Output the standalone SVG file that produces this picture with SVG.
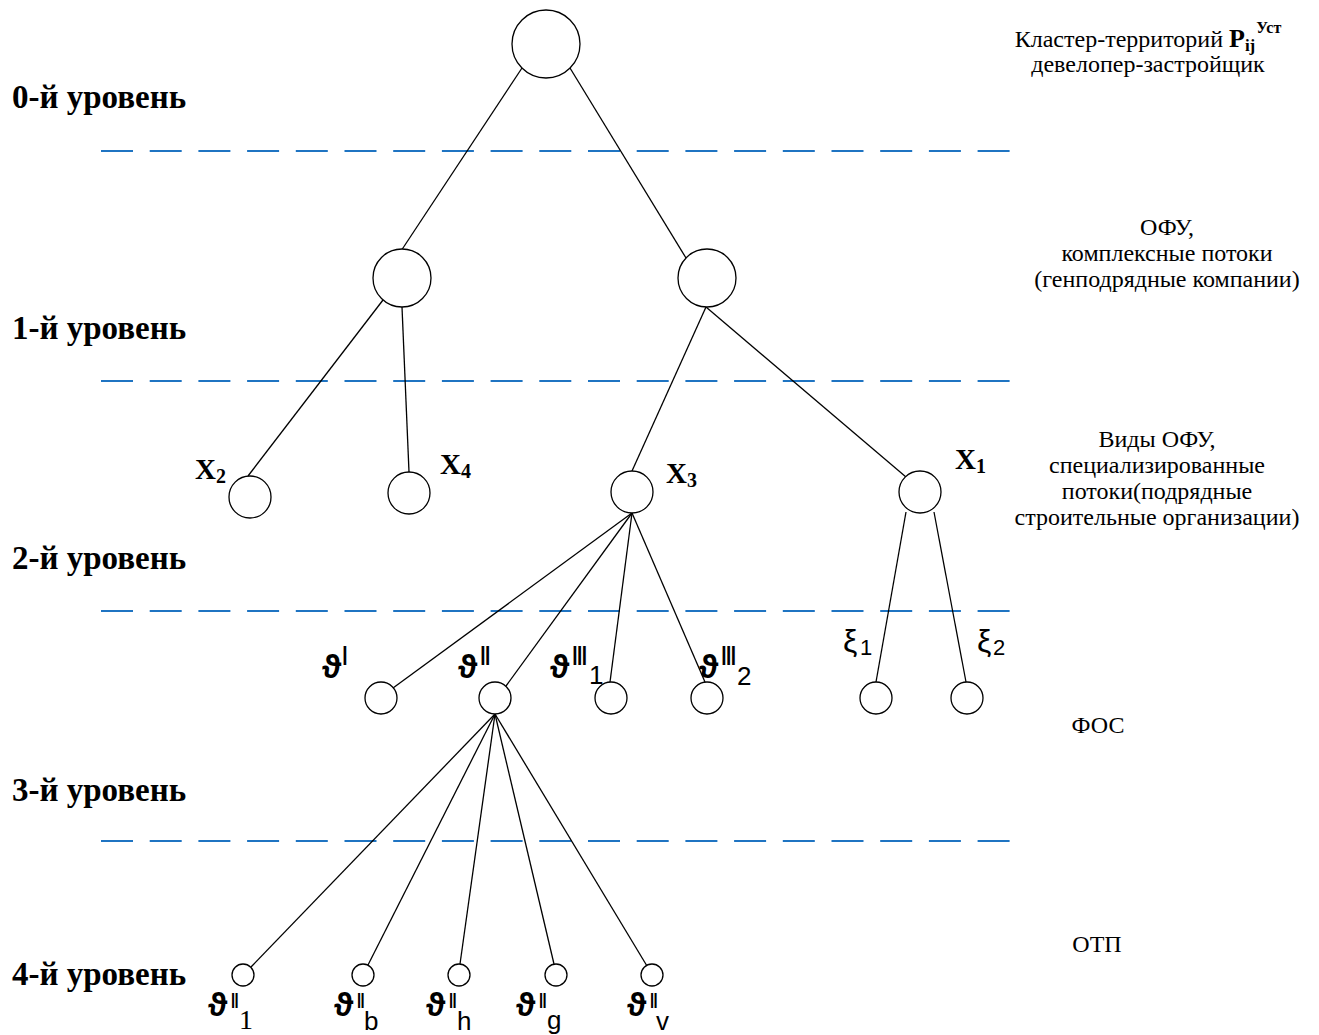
<svg xmlns="http://www.w3.org/2000/svg" width="1319" height="1035" viewBox="0 0 1319 1035">
<style>
.n{fill:#fff;stroke:#000;stroke-width:1.3}
.e{stroke:#000;stroke-width:1.3;fill:none}
.d{stroke:#1F74C2;stroke-width:2;stroke-dasharray:32 16.7;fill:none}
.lv{font-family:"Liberation Serif",serif;font-weight:bold;font-size:33px}
.r{font-family:"Liberation Serif",serif;font-size:24px;text-anchor:middle}
.x{font-family:"Liberation Serif",serif;font-weight:bold;font-size:29px}
.g{font-family:"Liberation Sans","DejaVu Sans",sans-serif;font-size:33px;font-weight:bold}
.sp{font-family:"Liberation Sans","DejaVu Sans",sans-serif;font-size:28px;letter-spacing:-3px}
.sb{font-family:"Liberation Sans","DejaVu Sans",sans-serif;font-size:26px}
.sp2{font-family:"Liberation Sans","DejaVu Sans",sans-serif;font-size:22px}
.sq{font-family:"Liberation Sans","DejaVu Sans",sans-serif;font-size:22px;letter-spacing:-2.5px}
.xi{font-family:"Liberation Sans","DejaVu Sans",sans-serif;font-size:32px}
</style>
<rect width="1319" height="1035" fill="#fff"/>
<g id="levels">
<line class="d" x1="101" y1="151" x2="1011" y2="151"/>
<line class="d" x1="101" y1="381" x2="1011" y2="381"/>
<line class="d" x1="101" y1="611" x2="1011" y2="611"/>
<line class="d" x1="101" y1="841" x2="1011" y2="841"/>
<text class="lv" x="12" y="108">0-й уровень</text>
<text class="lv" x="12" y="339">1-й уровень</text>
<text class="lv" x="12" y="569">2-й уровень</text>
<text class="lv" x="12" y="801">3-й уровень</text>
<text class="lv" x="12" y="985">4-й уровень</text>
</g>
<g id="descriptions">
<text class="r" x="1148" y="47">Кластер-территорий  <tspan font-weight="bold" font-size="26">P</tspan><tspan font-weight="bold" font-size="17" dy="4">ij</tspan><tspan font-weight="bold" font-size="16" dy="-18" dx="1">Уст</tspan></text>
<text class="r" x="1148" y="72">девелопер-застройщик</text>
<text class="r" x="1167" y="235">ОФУ,</text>
<text class="r" x="1167" y="261">комплексные потоки</text>
<text class="r" x="1167" y="287">(генподрядные компании)</text>
<text class="r" x="1157" y="447">Виды ОФУ,</text>
<text class="r" x="1157" y="473">специализированные</text>
<text class="r" x="1157" y="499">потоки(подрядные</text>
<text class="r" x="1157" y="525">строительные организации)</text>
<text class="r" x="1098" y="733">ФОС</text>
<text class="r" x="1097" y="952">ОТП</text>
</g>
<g id="connectors">
<line class="e" x1="522" y1="68" x2="401" y2="251"/>
<line class="e" x1="570" y1="68" x2="686" y2="258"/>
<line class="e" x1="383" y1="300" x2="248" y2="476"/>
<line class="e" x1="402" y1="307" x2="409" y2="472"/>
<line class="e" x1="706" y1="307" x2="632" y2="471"/>
<line class="e" x1="706" y1="307" x2="906" y2="477"/>
<line class="e" x1="632" y1="513" x2="393" y2="688"/>
<line class="e" x1="632" y1="513" x2="506" y2="686"/>
<line class="e" x1="632" y1="513" x2="610" y2="682"/>
<line class="e" x1="632" y1="513" x2="705" y2="682"/>
<line class="e" x1="906" y1="512" x2="876" y2="682"/>
<line class="e" x1="934" y1="512" x2="966" y2="682"/>
<line class="e" x1="495" y1="714" x2="251" y2="967"/>
<line class="e" x1="495" y1="714" x2="368" y2="965"/>
<line class="e" x1="495" y1="714" x2="460" y2="964"/>
<line class="e" x1="495" y1="714" x2="554" y2="964"/>
<line class="e" x1="495" y1="714" x2="647" y2="966"/>
</g>
<g id="root"><circle class="n" cx="546" cy="44" r="34"/></g>
<g id="l1a"><circle class="n" cx="402" cy="278" r="29"/></g>
<g id="l1b"><circle class="n" cx="707" cy="278" r="29"/></g>
<g id="x2"><circle class="n" cx="250" cy="497" r="21"/><text class="x" x="195" y="479">X<tspan font-size="20" dy="4">2</tspan></text></g>
<g id="x4"><circle class="n" cx="409" cy="493" r="21"/><text class="x" x="440" y="474">X<tspan font-size="20" dy="4">4</tspan></text></g>
<g id="x3"><circle class="n" cx="632" cy="492" r="21"/><text class="x" x="666" y="483">X<tspan font-size="20" dy="4">3</tspan></text></g>
<g id="x1"><circle class="n" cx="920" cy="492" r="21"/><text class="x" x="955" y="469">X<tspan font-size="20" dy="4">1</tspan></text></g>
<g id="t1"><circle class="n" cx="381" cy="698" r="16"/><text class="g" x="322" y="678">ϑ</text><text class="sp" x="341" y="665">I</text></g>
<g id="t2"><circle class="n" cx="495" cy="698" r="16"/><text class="g" x="458" y="678">ϑ</text><text class="sp" x="479" y="665">II</text></g>
<g id="t31"><circle class="n" cx="611" cy="698" r="16"/><text class="g" x="550" y="678">ϑ</text><text class="sp" x="571" y="665">III</text><text class="sb" x="589" y="684">1</text></g>
<g id="t32"><circle class="n" cx="707" cy="698" r="16"/><text class="g" x="699" y="678">ϑ</text><text class="sp" x="720" y="665">III</text><text class="sb" x="737" y="685">2</text></g>
<g id="xi1"><circle class="n" cx="876" cy="698" r="16"/><text class="xi" x="843" y="652">ξ</text><text class="sp2" x="860" y="655">1</text></g>
<g id="xi2"><circle class="n" cx="967" cy="698" r="16"/><text class="xi" x="977" y="652">ξ</text><text class="sp2" x="993" y="655">2</text></g>
<g id="b1"><circle class="n" cx="243" cy="975" r="11"/><text class="g" x="208" y="1016">ϑ</text><text class="sq" x="230" y="1008">II</text><text x="239" y="1029" font-family="Liberation Serif,serif" font-size="28">1</text></g>
<g id="b2"><circle class="n" cx="363" cy="975" r="11"/><text class="g" x="334" y="1016">ϑ</text><text class="sq" x="356" y="1008">II</text><text class="sb" x="364" y="1030">b</text></g>
<g id="b3"><circle class="n" cx="459" cy="975" r="11"/><text class="g" x="426" y="1016">ϑ</text><text class="sq" x="448" y="1008">II</text><text class="sb" x="457" y="1030">h</text></g>
<g id="b4"><circle class="n" cx="556" cy="975" r="11"/><text class="g" x="516" y="1016">ϑ</text><text class="sq" x="538" y="1008">II</text><text class="sb" x="547" y="1029">g</text></g>
<g id="b5"><circle class="n" cx="652" cy="975" r="11"/><text class="g" x="627" y="1016">ϑ</text><text class="sq" x="649" y="1008">II</text><text class="sb" x="656" y="1030">v</text></g>
</svg>
